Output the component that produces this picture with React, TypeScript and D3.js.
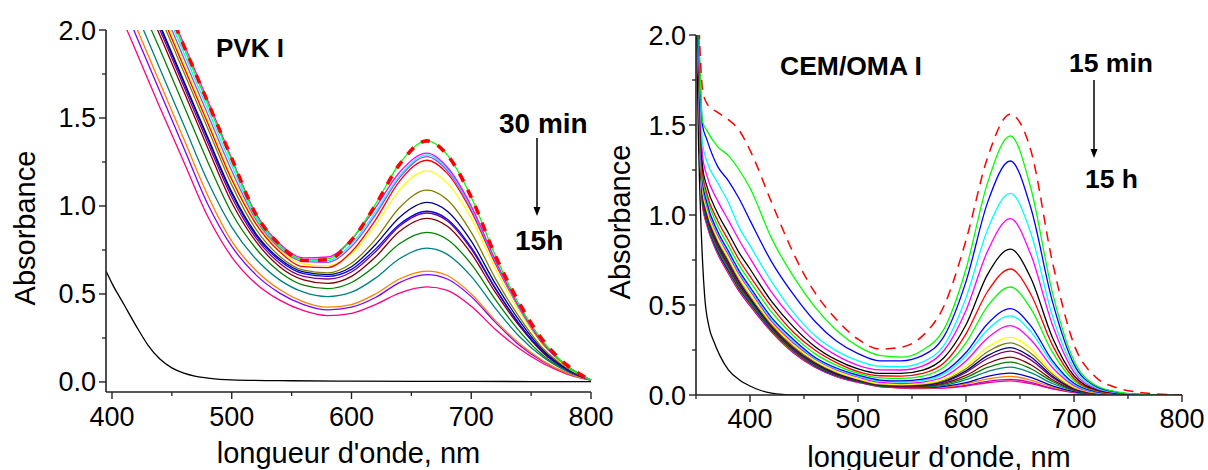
import React from "react";
import * as d3 from "d3";

const FONT = "'Liberation Sans', Arial, Helvetica, sans-serif";

// ---------------- Left panel: PVK I ----------------
const PVK_NM = [400, 420, 440, 460, 480, 500, 520, 540, 560, 580, 600, 620, 640, 663, 680, 700, 720, 740, 760, 780, 800];
const PVK_RED_DASH = [2.6, 2.55, 2.23, 1.91, 1.59, 1.27, 0.955, 0.78, 0.69, 0.695, 0.805, 1.005, 1.235, 1.37, 1.29, 1.05, 0.72, 0.45, 0.235, 0.095, 0.01];
const PVK_GREEN = [2.6, 2.54, 2.22, 1.9, 1.58, 1.26, 0.95, 0.775, 0.695, 0.7, 0.81, 1.01, 1.24, 1.37, 1.29, 1.05, 0.72, 0.44, 0.23, 0.09, 0.01];
const PVK_MAGENTA = [2.6, 2.56, 2.24, 1.92, 1.6, 1.27, 0.96, 0.785, 0.705, 0.71, 0.81, 0.99, 1.19, 1.3, 1.22, 1.0, 0.695, 0.425, 0.22, 0.09, 0.01];
const PVK_CYAN = [2.6, 2.51, 2.19, 1.87, 1.55, 1.23, 0.935, 0.77, 0.695, 0.69, 0.785, 0.965, 1.17, 1.29, 1.21, 0.99, 0.69, 0.42, 0.22, 0.09, 0.01];
const PVK_VIOLET2 = [2.6, 2.48, 2.16, 1.84, 1.52, 1.2, 0.925, 0.76, 0.685, 0.68, 0.77, 0.95, 1.16, 1.28, 1.2, 0.985, 0.685, 0.42, 0.22, 0.09, 0.01];
const PVK_RED = [2.6, 2.43, 2.11, 1.79, 1.47, 1.15, 0.9, 0.74, 0.655, 0.65, 0.74, 0.92, 1.14, 1.26, 1.185, 0.97, 0.675, 0.42, 0.215, 0.09, 0.01];
const PVK_YELLOW = [2.6, 2.45, 2.13, 1.81, 1.49, 1.17, 0.91, 0.75, 0.67, 0.66, 0.73, 0.89, 1.09, 1.2, 1.13, 0.93, 0.645, 0.4, 0.21, 0.085, 0.01];
const PVK_OLIVE = [2.6, 2.4, 2.08, 1.76, 1.44, 1.12, 0.87, 0.715, 0.635, 0.62, 0.675, 0.81, 0.99, 1.09, 1.035, 0.85, 0.59, 0.37, 0.19, 0.08, 0.01];
const PVK_NAVY = [2.6, 2.35, 2.03, 1.71, 1.39, 1.08, 0.845, 0.7, 0.625, 0.61, 0.655, 0.78, 0.935, 1.02, 0.97, 0.8, 0.56, 0.35, 0.18, 0.075, 0.01];
const PVK_BLUE = [2.6, 2.34, 2.02, 1.7, 1.38, 1.07, 0.835, 0.69, 0.615, 0.6, 0.64, 0.755, 0.895, 0.97, 0.925, 0.765, 0.535, 0.33, 0.17, 0.07, 0.01];
const PVK_PURPLE = [2.6, 2.32, 2.0, 1.68, 1.36, 1.05, 0.82, 0.675, 0.6, 0.585, 0.625, 0.74, 0.885, 0.96, 0.915, 0.755, 0.53, 0.33, 0.17, 0.07, 0.01];
const PVK_WINE = [2.6, 2.29, 1.97, 1.65, 1.33, 1.02, 0.8, 0.655, 0.58, 0.56, 0.6, 0.71, 0.855, 0.93, 0.885, 0.73, 0.51, 0.32, 0.165, 0.07, 0.01];
const PVK_DKGREEN = [2.5, 2.2, 1.89, 1.57, 1.25, 0.96, 0.76, 0.625, 0.55, 0.53, 0.565, 0.66, 0.785, 0.85, 0.81, 0.67, 0.47, 0.29, 0.15, 0.065, 0.01];
const PVK_TEAL = [2.4, 2.1, 1.78, 1.46, 1.14, 0.88, 0.7, 0.58, 0.51, 0.485, 0.51, 0.59, 0.7, 0.76, 0.725, 0.6, 0.42, 0.26, 0.14, 0.06, 0.01];
const PVK_ORANGE = [2.35, 2.02, 1.7, 1.38, 1.06, 0.8, 0.635, 0.525, 0.455, 0.425, 0.44, 0.5, 0.585, 0.63, 0.605, 0.5, 0.35, 0.22, 0.12, 0.05, 0.01];
const PVK_VIOLET = [2.3, 1.97, 1.65, 1.33, 1.01, 0.77, 0.61, 0.505, 0.44, 0.41, 0.425, 0.48, 0.565, 0.61, 0.585, 0.485, 0.34, 0.21, 0.115, 0.05, 0.01];
const PVK_PINK = [2.2, 1.88, 1.56, 1.25, 0.94, 0.71, 0.56, 0.465, 0.405, 0.377, 0.39, 0.44, 0.505, 0.54, 0.52, 0.43, 0.3, 0.19, 0.105, 0.045, 0.01];
const PVK_BLANK_NM = [395, 400, 410, 420, 430, 440, 450, 460, 470, 480, 500, 550, 600, 700, 800];
const PVK_BLANK = [0.63, 0.56, 0.44, 0.32, 0.21, 0.13, 0.08, 0.05, 0.032, 0.022, 0.012, 0.007, 0.005, 0.003, 0.002];

// ---------------- Right panel: CEM/OMA I ----------------
const CEM_NM = [350, 353, 356, 360, 370, 380, 390, 400, 420, 440, 460, 480, 500, 520, 540, 560, 580, 600, 620, 641, 660, 680, 700, 720, 740, 760, 800];
const CEM_RED_DASH = [2.6, 2.02, 1.7, 1.62, 1.57, 1.53, 1.47, 1.36, 1.07, 0.79, 0.57, 0.42, 0.31, 0.255, 0.265, 0.33, 0.5, 0.86, 1.32, 1.56, 1.36, 0.74, 0.28, 0.1, 0.04, 0.015, 0];
const CEM_GREEN = [2.6, 1.95, 1.52, 1.47, 1.38, 1.33, 1.25, 1.15, 0.87, 0.66, 0.49, 0.36, 0.27, 0.22, 0.21, 0.25, 0.37, 0.7, 1.18, 1.44, 1.15, 0.57, 0.19, 0.054, 0.017, 0.004, 0];
const CEM_BLUE = [2.6, 1.9, 1.5, 1.42, 1.27, 1.19, 1.09, 0.97, 0.74, 0.56, 0.41, 0.3, 0.23, 0.19, 0.19, 0.22, 0.33, 0.63, 1.07, 1.3, 1.04, 0.52, 0.17, 0.049, 0.015, 0.004, 0];
const CEM_CYAN = [2.5, 1.85, 1.4, 1.3, 1.18, 1.07, 0.93, 0.83, 0.63, 0.46, 0.33, 0.245, 0.19, 0.16, 0.157, 0.184, 0.28, 0.54, 0.92, 1.12, 0.9, 0.44, 0.146, 0.042, 0.013, 0.003, 0];
const CEM_MAGENTA = [2.5, 1.8, 1.33, 1.22, 1.08, 0.97, 0.86, 0.76, 0.57, 0.42, 0.3, 0.22, 0.165, 0.14, 0.139, 0.162, 0.25, 0.47, 0.8, 0.98, 0.78, 0.39, 0.127, 0.037, 0.012, 0.003, 0];
const CEM_BLACK = [2.5, 1.75, 1.27, 1.16, 1.01, 0.9, 0.79, 0.7, 0.52, 0.38, 0.27, 0.195, 0.145, 0.12, 0.12, 0.138, 0.21, 0.39, 0.67, 0.81, 0.65, 0.32, 0.107, 0.031, 0.01, 0.002, 0];
const CEM_RED = [2.5, 1.7, 1.24, 1.12, 0.97, 0.86, 0.75, 0.66, 0.49, 0.35, 0.25, 0.18, 0.13, 0.107, 0.105, 0.12, 0.18, 0.34, 0.575, 0.7, 0.56, 0.277, 0.092, 0.026, 0.008, 0.002, 0];
const CEM_GREEN2 = [2.5, 1.7, 1.21, 1.1, 0.94, 0.83, 0.72, 0.63, 0.46, 0.33, 0.23, 0.165, 0.12, 0.095, 0.092, 0.105, 0.157, 0.29, 0.494, 0.6, 0.48, 0.238, 0.079, 0.023, 0.007, 0.002, 0];
const CEM_BLUE2 = [2.5, 1.65, 1.19, 1.07, 0.91, 0.8, 0.69, 0.6, 0.43, 0.31, 0.21, 0.15, 0.11, 0.083, 0.078, 0.088, 0.13, 0.236, 0.396, 0.48, 0.384, 0.191, 0.065, 0.019, 0.006, 0.002, 0];
const CEM_CYAN2 = [2.5, 1.65, 1.18, 1.06, 0.9, 0.79, 0.68, 0.59, 0.42, 0.3, 0.205, 0.145, 0.105, 0.078, 0.072, 0.081, 0.119, 0.217, 0.363, 0.44, 0.352, 0.176, 0.058, 0.017, 0.005, 0.001, 0];
const CEM_MAGENTA2 = [2.5, 1.6, 1.17, 1.05, 0.89, 0.78, 0.67, 0.58, 0.41, 0.29, 0.2, 0.14, 0.1, 0.07, 0.064, 0.072, 0.103, 0.189, 0.317, 0.385, 0.307, 0.153, 0.052, 0.015, 0.004, 0.001, 0];
const CEM_YELLOW = [2.5, 1.6, 1.15, 1.03, 0.87, 0.76, 0.65, 0.56, 0.4, 0.28, 0.19, 0.13, 0.09, 0.063, 0.058, 0.064, 0.09, 0.16, 0.265, 0.32, 0.256, 0.128, 0.044, 0.013, 0.004, 0.001, 0];
const CEM_OLIVE = [2.5, 1.6, 1.14, 1.02, 0.86, 0.75, 0.64, 0.55, 0.39, 0.27, 0.185, 0.125, 0.088, 0.06, 0.055, 0.06, 0.083, 0.146, 0.24, 0.29, 0.232, 0.117, 0.04, 0.012, 0.003, 0.001, 0];
const CEM_NAVY = [2.5, 1.6, 1.13, 1.01, 0.85, 0.74, 0.63, 0.54, 0.385, 0.265, 0.18, 0.12, 0.085, 0.058, 0.052, 0.056, 0.077, 0.134, 0.219, 0.263, 0.211, 0.106, 0.036, 0.011, 0.003, 0.001, 0];
const CEM_PURPLE = [2.5, 1.6, 1.12, 1.0, 0.84, 0.73, 0.62, 0.535, 0.38, 0.26, 0.175, 0.118, 0.082, 0.056, 0.05, 0.054, 0.073, 0.125, 0.203, 0.244, 0.195, 0.098, 0.034, 0.01, 0.003, 0.001, 0];
const CEM_WINE = [2.5, 1.6, 1.11, 0.99, 0.83, 0.72, 0.61, 0.53, 0.375, 0.255, 0.172, 0.115, 0.08, 0.054, 0.048, 0.05, 0.066, 0.109, 0.175, 0.21, 0.168, 0.085, 0.03, 0.009, 0.002, 0.001, 0];
const CEM_DKGREEN = [2.5, 1.6, 1.1, 0.98, 0.82, 0.71, 0.6, 0.52, 0.37, 0.25, 0.168, 0.112, 0.078, 0.052, 0.046, 0.047, 0.061, 0.097, 0.153, 0.183, 0.146, 0.075, 0.027, 0.008, 0.002, 0, 0];
const CEM_TEAL = [2.5, 1.6, 1.09, 0.97, 0.81, 0.7, 0.595, 0.515, 0.365, 0.247, 0.165, 0.11, 0.076, 0.05, 0.044, 0.044, 0.054, 0.085, 0.13, 0.155, 0.124, 0.064, 0.024, 0.007, 0.002, 0, 0];
const CEM_ROYAL = [2.5, 1.6, 1.08, 0.96, 0.8, 0.69, 0.59, 0.51, 0.36, 0.244, 0.162, 0.108, 0.074, 0.049, 0.042, 0.041, 0.048, 0.069, 0.104, 0.122, 0.098, 0.051, 0.019, 0.006, 0.002, 0, 0];
const CEM_ORANGE = [2.5, 1.6, 1.07, 0.955, 0.795, 0.685, 0.585, 0.505, 0.357, 0.241, 0.16, 0.106, 0.073, 0.048, 0.041, 0.039, 0.044, 0.062, 0.09, 0.104, 0.083, 0.044, 0.017, 0.005, 0.002, 0, 0];
const CEM_VIOLET = [2.5, 1.6, 1.06, 0.95, 0.79, 0.68, 0.58, 0.5, 0.354, 0.238, 0.158, 0.104, 0.072, 0.047, 0.04, 0.037, 0.041, 0.054, 0.076, 0.087, 0.07, 0.037, 0.015, 0.005, 0.002, 0, 0];
const CEM_PINK = [2.5, 1.6, 1.05, 0.945, 0.785, 0.675, 0.575, 0.495, 0.35, 0.235, 0.155, 0.102, 0.07, 0.046, 0.039, 0.036, 0.038, 0.05, 0.068, 0.078, 0.063, 0.034, 0.014, 0.004, 0.001, 0, 0];
const CEM_BLANK_NM = [350, 352, 354, 356, 358, 362, 367, 372, 380, 390, 400, 410, 420, 430, 440, 800];
const CEM_BLANK = [2.3, 1.5, 1.05, 0.75, 0.55, 0.38, 0.29, 0.22, 0.14, 0.085, 0.05, 0.025, 0.01, 0.003, 0, 0];

// ticks
const Y_MAJOR = [0, 0.5, 1.0, 1.5, 2.0];
const Y_MINOR = [0.25, 0.75, 1.25, 1.75];
const X_MAJOR = [400, 500, 600, 700, 800];
const X_MINOR_LEFT = [450, 550, 650, 750];
const X_MINOR_RIGHT = [350, 450, 550, 650, 750];

type S = { nm: number[]; v: number[]; color: string; w?: number; dash?: string };

const leftSeries: S[] = [
  { nm: PVK_BLANK_NM, v: PVK_BLANK, color: "#000000" },
  { nm: PVK_NM, v: PVK_PINK, color: "#ff0080" },
  { nm: PVK_NM, v: PVK_VIOLET, color: "#8000ff" },
  { nm: PVK_NM, v: PVK_ORANGE, color: "#ff8000" },
  { nm: PVK_NM, v: PVK_TEAL, color: "#008080" },
  { nm: PVK_NM, v: PVK_DKGREEN, color: "#008000" },
  { nm: PVK_NM, v: PVK_WINE, color: "#800000" },
  { nm: PVK_NM, v: PVK_PURPLE, color: "#800080" },
  { nm: PVK_NM, v: PVK_BLUE, color: "#0000ff" },
  { nm: PVK_NM, v: PVK_NAVY, color: "#000080" },
  { nm: PVK_NM, v: PVK_OLIVE, color: "#808000" },
  { nm: PVK_NM, v: PVK_YELLOW, color: "#ffff00" },
  { nm: PVK_NM, v: PVK_RED, color: "#ff0000" },
  { nm: PVK_NM, v: PVK_VIOLET2, color: "#a040ff" },
  { nm: PVK_NM, v: PVK_CYAN, color: "#00ffff" },
  { nm: PVK_NM, v: PVK_MAGENTA, color: "#ff00ff" },
  { nm: PVK_NM, v: PVK_GREEN, color: "#00ff00" },
  { nm: PVK_NM, v: PVK_RED_DASH, color: "#ff0000", w: 3.6, dash: "9 9" },
];

const rightSeries: S[] = [
  { nm: CEM_BLANK_NM, v: CEM_BLANK, color: "#000000" },
  { nm: CEM_NM, v: CEM_PINK, color: "#ff0080" },
  { nm: CEM_NM, v: CEM_VIOLET, color: "#c000c0" },
  { nm: CEM_NM, v: CEM_ORANGE, color: "#ff8000" },
  { nm: CEM_NM, v: CEM_ROYAL, color: "#0000c0" },
  { nm: CEM_NM, v: CEM_TEAL, color: "#008080" },
  { nm: CEM_NM, v: CEM_DKGREEN, color: "#008000" },
  { nm: CEM_NM, v: CEM_WINE, color: "#800000" },
  { nm: CEM_NM, v: CEM_PURPLE, color: "#800080" },
  { nm: CEM_NM, v: CEM_NAVY, color: "#000080" },
  { nm: CEM_NM, v: CEM_OLIVE, color: "#808000" },
  { nm: CEM_NM, v: CEM_YELLOW, color: "#ffff00" },
  { nm: CEM_NM, v: CEM_MAGENTA2, color: "#ff00ff" },
  { nm: CEM_NM, v: CEM_CYAN2, color: "#00ffff" },
  { nm: CEM_NM, v: CEM_BLUE2, color: "#0000ff" },
  { nm: CEM_NM, v: CEM_GREEN2, color: "#00ff00" },
  { nm: CEM_NM, v: CEM_RED, color: "#ff0000" },
  { nm: CEM_NM, v: CEM_BLACK, color: "#000000" },
  { nm: CEM_NM, v: CEM_MAGENTA, color: "#ff00ff" },
  { nm: CEM_NM, v: CEM_CYAN, color: "#00ffff" },
  { nm: CEM_NM, v: CEM_BLUE, color: "#0000ff" },
  { nm: CEM_NM, v: CEM_GREEN, color: "#00ff00" },
  { nm: CEM_NM, v: CEM_RED_DASH, color: "#ff0000", w: 1.5, dash: "10 7" },
];

type PanelProps = {
  id: string;
  x0: number; x1: number; yTop: number; yBottom: number;
  xDomain: [number, number]; yDomain: [number, number];
  xMinor: number[];
  series: S[];
  tickLabelBaseline: number;
  xTitleBaseline: number;
  yTitleX: number; yTitleY: number;
};

function Panel(p: PanelProps) {
  const x = d3.scaleLinear().domain(p.xDomain).range([p.x0, p.x1]);
  const y = d3.scaleLinear().domain(p.yDomain).range([p.yBottom, p.yTop]);
  const line = d3
    .line<[number, number]>()
    .x((d) => x(d[0]))
    .y((d) => y(d[1]))
    .curve(d3.curveMonotoneX);
  const axisColor = "#222";
  const fmt = d3.format(".1f");
  return (
    <g>
      <defs>
        <clipPath id={p.id}>
          <rect x={p.x0} y={p.yTop} width={p.x1 - p.x0 + 2} height={p.yBottom - p.yTop} />
        </clipPath>
      </defs>
      <g clipPath={`url(#${p.id})`} fill="none">
        {p.series.map((s, i) => (
          <path
            key={i}
            d={line(s.nm.map((n, k) => [n, s.v[k]] as [number, number])) || ""}
            stroke={s.color}
            strokeWidth={s.w ?? 1.3}
            strokeDasharray={s.dash}
            strokeLinejoin="round"
          />
        ))}
      </g>
      {/* axes */}
      <line x1={p.x0} x2={p.x0} y1={p.yTop} y2={p.yBottom} stroke={axisColor} strokeWidth={1.6} />
      <line x1={p.x0} x2={p.x1} y1={p.yBottom} y2={p.yBottom} stroke={axisColor} strokeWidth={1.6} />
      {Y_MAJOR.map((t) => (
        <g key={"ym" + t}>
          <line x1={p.x0 - 7} x2={p.x0} y1={y(t)} y2={y(t)} stroke={axisColor} strokeWidth={1.4} />
          <text x={p.x0 - 10} y={y(t) + 9.5} textAnchor="end" fontSize={27} fontFamily={FONT} fill="#000">
            {fmt(t)}
          </text>
        </g>
      ))}
      {Y_MINOR.map((t) => (
        <line key={"yn" + t} x1={p.x0 - 4} x2={p.x0} y1={y(t)} y2={y(t)} stroke={axisColor} strokeWidth={1.3} />
      ))}
      {X_MAJOR.map((t) => (
        <g key={"xm" + t}>
          <line x1={x(t)} x2={x(t)} y1={p.yBottom} y2={p.yBottom + 7} stroke={axisColor} strokeWidth={1.4} />
          <text x={x(t)} y={p.tickLabelBaseline} textAnchor="middle" fontSize={27} fontFamily={FONT} fill="#000">
            {t}
          </text>
        </g>
      ))}
      {p.xMinor.map((t) => (
        <line key={"xn" + t} x1={x(t)} x2={x(t)} y1={p.yBottom} y2={p.yBottom + 4} stroke={axisColor} strokeWidth={1.3} />
      ))}
      <text x={(p.x0 + p.x1) / 2} y={p.xTitleBaseline} textAnchor="middle" fontSize={29} fontFamily={FONT} fill="#000">
        longueur d'onde, nm
      </text>
      <text
        transform={`translate(${p.yTitleX},${p.yTitleY}) rotate(-90)`}
        textAnchor="middle"
        fontSize={29}
        fontFamily={FONT}
        fill="#000"
      >
        Absorbance
      </text>
    </g>
  );
}

function Arrow({ x, y1, y2 }: { x: number; y1: number; y2: number }) {
  return (
    <g>
      <line x1={x} x2={x} y1={y1} y2={y2 - 7} stroke="#000" strokeWidth={1.5} />
      <path d={`M${x - 3.5},${y2 - 9} L${x + 3.5},${y2 - 9} L${x},${y2} Z`} fill="#000" />
    </g>
  );
}

export default function App() {
  const bold = { fontFamily: FONT, fontWeight: 700 as const, fill: "#000" };
  return (
    <svg
      width={1208}
      height={470}
      viewBox="0 0 1208 470"
      style={{ position: "absolute", left: 0, top: 0, background: "#fff" }}
    >
      <rect x={0} y={0} width={1208} height={470} fill="#fff" />
      <Panel
        id="clipL"
        x0={106}
        x1={591}
        yTop={30}
        yBottom={392}
        xDomain={[395, 800]}
        yDomain={[-0.057, 2.0]}
        xMinor={X_MINOR_LEFT}
        series={leftSeries}
        tickLabelBaseline={426}
        xTitleBaseline={463}
        yTitleX={35}
        yTitleY={228}
      />
      <Panel
        id="clipR"
        x0={696}
        x1={1182}
        yTop={35}
        yBottom={395}
        xDomain={[350, 800]}
        yDomain={[0, 2.0]}
        xMinor={X_MINOR_RIGHT}
        series={rightSeries}
        tickLabelBaseline={428}
        xTitleBaseline={467}
        yTitleX={630}
        yTitleY={222}
      />
      <text x={216} y={57} fontSize={26} {...bold}>PVK I</text>
      <text x={499} y={133} fontSize={28} {...bold}>30 min</text>
      <Arrow x={537} y1={138} y2={216} />
      <text x={515} y={250} fontSize={28} {...bold}>15h</text>
      <text x={780} y={75} fontSize={26.5} {...bold}>CEM/OMA I</text>
      <text x={1069} y={72} fontSize={26.5} {...bold}>15 min</text>
      <Arrow x={1094} y1={80} y2={158} />
      <text x={1085} y={188} fontSize={26.5} {...bold}>15 h</text>
    </svg>
  );
}
